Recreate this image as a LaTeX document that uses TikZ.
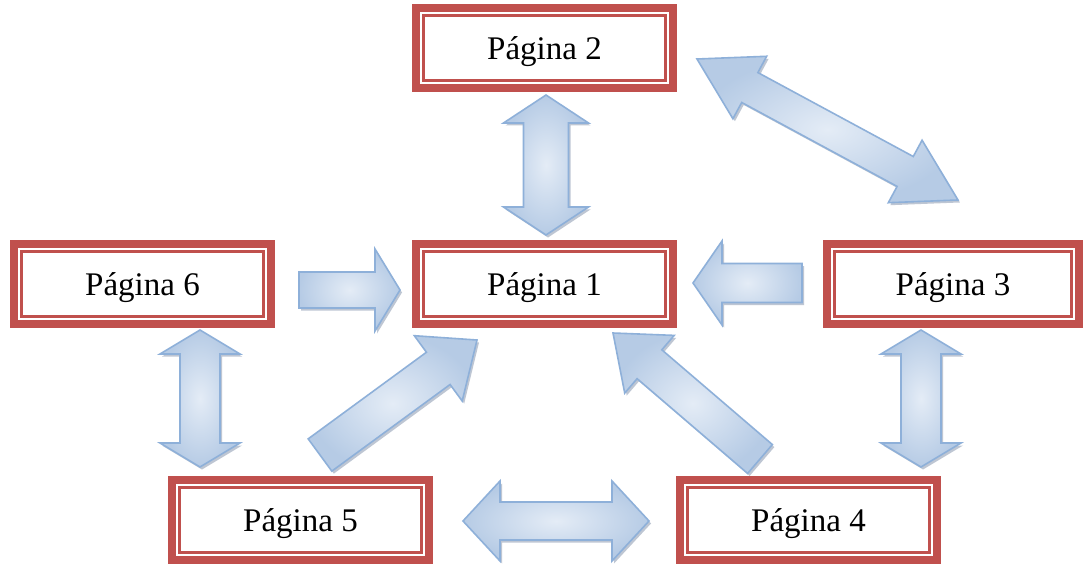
\documentclass[tikz,border=0pt]{standalone}
\usepackage{fontspec}
\setmainfont{Liberation Serif}
\usetikzlibrary{calc}

\definecolor{boxred}{HTML}{C0504D}
\definecolor{arrowline}{HTML}{8EB0D9}
\definecolor{arrowlight}{HTML}{E4ECF6}
\definecolor{arrowdark}{HTML}{B6CBE5}
\definecolor{arrowshade}{HTML}{7E8FA9}

% geometry of a block arrow running from #1 to #2:
% #3 shaft width, #4 head width, #5 head length
\newcommand\arrowsetup[5]{%
  \path (#1); \pgfgetlastxy{\bax}{\bay}%
  \path (#2); \pgfgetlastxy{\bbx}{\bby}%
  \pgfmathsetmacro\baang{atan2((\bby)-(\bay),(\bbx)-(\bax))}%
  \pgfmathsetmacro\balen{veclen((\bbx)-(\bax),(\bby)-(\bay))}%
  \pgfmathsetmacro\bas{(#3)/2}%
  \pgfmathsetmacro\baw{(#4)/2}%
  \pgfmathsetmacro\bah{#5}%
  \pgfmathsetmacro\bab{\balen-(#5)}%
}
\newcommand\singlepoly{(0pt,\bas pt) -- (\bab pt,\bas pt) -- (\bab pt,\baw pt)
  -- (\balen pt,0pt) -- (\bab pt,-\baw pt) -- (\bab pt,-\bas pt)
  -- (0pt,-\bas pt) -- cycle}
\newcommand\doublepoly{(0pt,0pt) -- (\bah pt,\baw pt) -- (\bah pt,\bas pt)
  -- (\bab pt,\bas pt) -- (\bab pt,\baw pt) -- (\balen pt,0pt)
  -- (\bab pt,-\baw pt) -- (\bab pt,-\bas pt) -- (\bah pt,-\bas pt)
  -- (\bah pt,-\baw pt) -- cycle}
\newcommand\singlearrow[5]{%
  \arrowsetup{#1}{#2}{#3}{#4}{#5}%
  \path[arrowshadow, shift={($(#1)+(2,2.5)$)}, rotate=\baang] \singlepoly;
  \path[arrowbody, shift={(#1)}, rotate=\baang] \singlepoly;
}
\newcommand\doublearrow[5]{%
  \arrowsetup{#1}{#2}{#3}{#4}{#5}%
  \path[arrowshadow, shift={($(#1)+(2,2.5)$)}, rotate=\baang] \doublepoly;
  \path[arrowbody, shift={(#1)}, rotate=\baang] \doublepoly;
}

\tikzset{
  box/.style={draw=boxred, line width=8pt, fill=white,
    minimum width=257pt, minimum height=80pt, inner sep=0pt, outer sep=4pt,
    text height=23pt, text depth=0pt,
    font=\fontsize{33}{40}\selectfont},
  innerframe/.style={draw=boxred, line width=2.5pt},
  arrowshadow/.style={fill=arrowshade, fill opacity=0.5},
  arrowbody/.style={draw=arrowline, line width=1.6pt, line join=miter,
    shading=radial, inner color=arrowlight, outer color=arrowdark},
}

\begin{document}
\begin{tikzpicture}[x=1pt, y=-1pt]
\useasboundingbox[fill=white] (0,0) rectangle (1084,564);

% pages
\node[box] (p2) at (544.5,48)  {Página 2};
\node[box] (p1) at (544.5,284) {Página 1};
\node[box] (p6) at (142.5,284) {Página 6};
\node[box, minimum width=252pt] (p3) at (953,284) {Página 3};
\node[box] (p5) at (300.5,520) {Página 5};
\node[box] (p4) at (808.5,520) {Página 4};

\foreach \n in {p1,p2,p3,p4,p5,p6}
  \draw[innerframe] ($(\n.north west)+(11.5,11.5)$) rectangle ($(\n.south east)+(-11.5,-11.5)$);

% arrow end points
\coordinate (a21) at ($(p2.south)+(1.5,3)$);
\coordinate (a12) at ($(p1.north)+(1.5,-5)$);
\coordinate (a23) at ($(p2.east)+(20,11)$);
\coordinate (a32) at ($(p3.north)+(5,-40)$);
\coordinate (a61) at ($(p6.east)+(24,6)$);
\coordinate (a16) at ($(p1.west)+(-12,6)$);
\coordinate (a31) at ($(p3.west)+(-21,-1)$);
\coordinate (a13) at ($(p1.east)+(16,-1)$);
\coordinate (a65) at ($(p6.south)+(57.5,2)$);
\coordinate (a56) at ($(p5.north)+(-100.5,-9)$);
\coordinate (a34) at ($(p3.south)+(-32,2)$);
\coordinate (a43) at ($(p4.north)+(112.5,-9)$);
\coordinate (a51) at ($(p5.north)+(19.5,-21)$);
\coordinate (a15) at ($(p1.south)+(-67.5,12)$);
\coordinate (a41) at ($(p4.north)+(-48.5,-17)$);
\coordinate (a14) at ($(p1.south)+(68.5,5)$);
\coordinate (a54) at ($(p5.east)+(30,1)$);
\coordinate (a45) at ($(p4.west)+(-27,1)$);

% connectors
\doublearrow{a21}{a12}{45}{85}{28}
\doublearrow{a23}{a32}{34}{71}{60}
\singlearrow{a61}{a16}{36}{82}{25}
\singlearrow{a31}{a13}{39}{84}{29}
\doublearrow{a65}{a56}{40}{80}{24}
\doublearrow{a34}{a43}{40}{80}{24}
\singlearrow{a51}{a15}{40}{81}{48}
\singlearrow{a41}{a14}{38}{76}{48}
\doublearrow{a54}{a45}{38}{80}{37}
\end{tikzpicture}
\end{document}
